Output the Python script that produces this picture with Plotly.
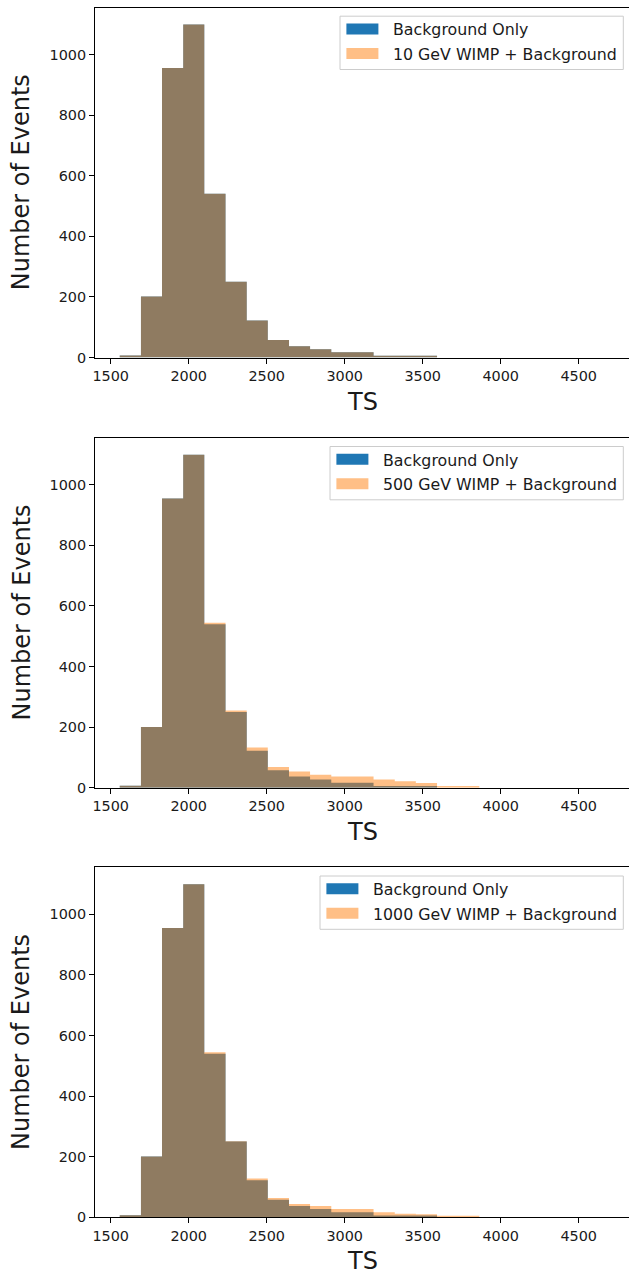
import plotly.graph_objects as go
from plotly.subplots import make_subplots

W, H = 629, 1271

# Histogram bin edges (TS) shared by every panel
bin_edges = [1558, 1694, 1829, 1965, 2100, 2236, 2372, 2507, 2643,
             2778, 2914, 3050, 3185, 3321, 3456, 3592, 3728, 3863]

# Event counts per bin
background = [7, 201, 955, 1099, 540, 250, 122, 58, 37, 27, 17, 17, 6, 6, 6, 0, 0]
wimp_10 = [7, 201, 955, 1099, 540, 250, 122, 58, 37, 27, 17, 17, 6, 6, 6, 0, 0]
wimp_500 = [7, 201, 955, 1099, 545, 255, 133, 69, 54, 43, 37, 37, 27, 22, 16, 6, 6]
wimp_1000 = [7, 201, 955, 1099, 545, 251, 128, 64, 44, 37, 27, 27, 17, 12, 10, 5, 5]

signal_series = [wimp_10, wimp_500, wimp_1000]
signal_labels = ["10 GeV WIMP + Background",
                 "500 GeV WIMP + Background",
                 "1000 GeV WIMP + Background"]
background_label = "Background Only"

x_ticks = [1500, 2000, 2500, 3000, 3500, 4000, 4500]
y_ticks = [0, 200, 400, 600, 800, 1000]

BLUE = "#1f77b4"
ORANGE_A = "rgba(255,127,14,0.5)"
ORANGE_LEGEND = "#ffbf86"
FONT = "DejaVu Sans"
TXT = "#1a1a1a"

# panel geometry in pixels
ax_left, ax_right = 95, 629
panel_tops = [7.5, 437.8, 867.3]
panel_h = 350
legend_left = [340, 330, 320]
legend_right = 623.3


def step_hist(counts, color, name):
    """Filled step outline of a histogram (one flat top per bin)."""
    xs = list(bin_edges)
    ys = list(counts) + [counts[-1]]
    return go.Scatter(x=xs, y=ys, mode="lines", line=dict(shape="hv", width=0, color=color),
                      fill="tozeroy", fillcolor=color, name=name,
                      showlegend=False, hoverinfo="skip")


fig = make_subplots(rows=3, cols=1)

for i, sig in enumerate(signal_series):
    fig.add_trace(step_hist(background, BLUE, background_label), row=i + 1, col=1)
    fig.add_trace(step_hist(sig, ORANGE_A, signal_labels[i]), row=i + 1, col=1)


def px_x(p):
    return p / W


def px_y(p):
    return 1 - p / H


axis_common = dict(showgrid=False, zeroline=False, showline=True,
                   linecolor="black", linewidth=1, ticks="outside",
                   ticklen=5, tickwidth=1, tickcolor="black",
                   tickfont=dict(family=FONT, size=14.4, color=TXT),
                   automargin=False)

shapes = []
annotations = []
for i in range(3):
    top = panel_tops[i]
    bottom = top + panel_h
    sfx = "" if i == 0 else str(i + 1)
    fig.layout["xaxis" + sfx].update(
        domain=[px_x(ax_left), px_x(ax_right)], range=[1399.4, 4822.5],
        tickvals=x_ticks, mirror=True, **axis_common)
    fig.layout["yaxis" + sfx].update(
        domain=[px_y(bottom), px_y(top)], range=[0, 1155],
        tickvals=y_ticks, mirror=False, **axis_common)

    # axis titles
    annotations.append(dict(text="TS", x=px_x((ax_left + ax_right) / 2),
                            y=px_y(bottom + 44), xref="paper", yref="paper",
                            xanchor="center", yanchor="middle", showarrow=False,
                            font=dict(family=FONT, size=24, color=TXT)))
    annotations.append(dict(text="Number of Events", x=px_x(21.7),
                            y=px_y(top + panel_h / 2), xref="paper", yref="paper",
                            xanchor="center", yanchor="middle", showarrow=False,
                            textangle=-90,
                            font=dict(family=FONT, size=24, color=TXT)))

    # legend frame
    L = legend_left[i]
    shapes.append(dict(type="rect", xref="paper", yref="paper",
                       x0=px_x(L), x1=px_x(legend_right),
                       y0=px_y(top + 62), y1=px_y(top + 8.7),
                       fillcolor="rgba(255,255,255,0.8)",
                       line=dict(color="#cccccc", width=1)))
    rows = [(BLUE, background_label, top + 16, top + 27),
            (ORANGE_LEGEND, signal_labels[i], top + 40.4, top + 51.4)]
    for color, label, y0, y1 in rows:
        shapes.append(dict(type="rect", xref="paper", yref="paper",
                           x0=px_x(L + 6.4), x1=px_x(L + 38.4),
                           y0=px_y(y1), y1=px_y(y0),
                           fillcolor=color, line=dict(width=0)))
        annotations.append(dict(text=label, x=px_x(L + 51.4),
                                y=px_y((y0 + y1) / 2 + 1), xref="paper",
                                yref="paper", xanchor="left", yanchor="middle",
                                showarrow=False,
                                font=dict(family=FONT, size=15.8, color=TXT)))

fig.update_layout(width=W, height=H, margin=dict(l=0, r=0, t=0, b=0),
                  showlegend=False,
                  paper_bgcolor="white", plot_bgcolor="white",
                  font=dict(family=FONT, color=TXT),
                  shapes=shapes, annotations=annotations)

fig.write_html("out.html")
